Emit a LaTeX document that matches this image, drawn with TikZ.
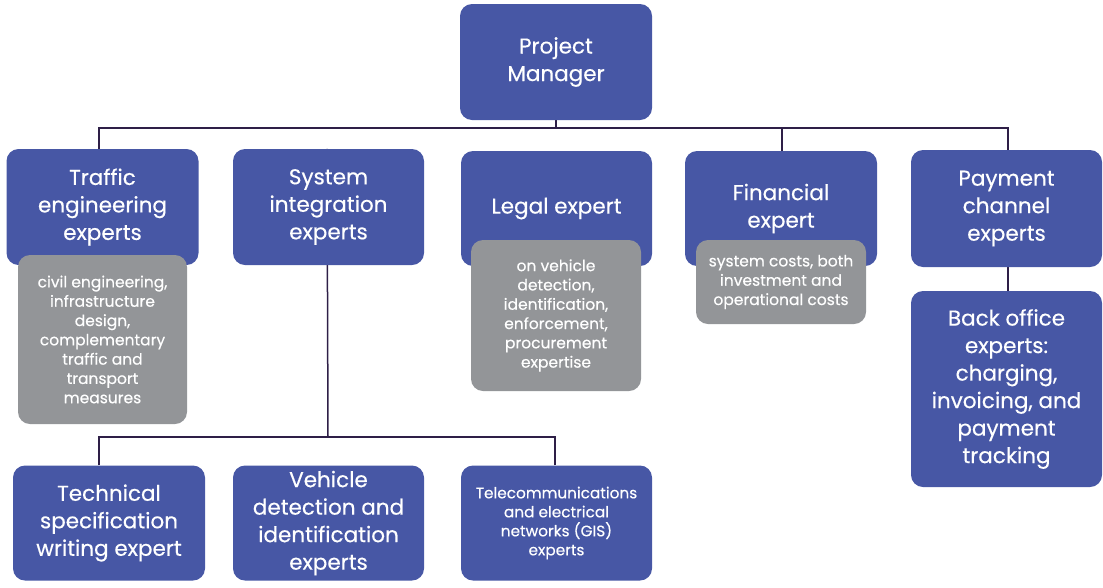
\documentclass[tikz,border=0pt]{standalone}
\usepackage{fontspec}
\setmainfont{Poppins}[FakeBold=0.35]
\usetikzlibrary{backgrounds}
\definecolor{boxblue}{HTML}{4757A5}
\definecolor{boxgrey}{HTML}{939598}
\definecolor{linec}{HTML}{2E1F47}
\begin{document}
\begin{tikzpicture}[x=1pt,y=-1pt,
  sz/.style 2 args={minimum width=#1, minimum height=#2},
  bluebox/.style={fill=boxblue, rounded corners=12pt, text=white, inner sep=0pt, align=center,
    font=\fontsize{21.5}{27.5}\selectfont},
  greybox/.style={fill=boxgrey, rounded corners=12pt, text=white, inner sep=0pt, align=center,
    font=\fontsize{15.5}{19.3}\selectfont},
  conn/.style={draw=linec, line width=1.5pt}]
\useasboundingbox (0,0) rectangle (1103,587);
% boxes
\node[bluebox, sz={192pt}{116pt}] (pm) at (556,62) {Project\\Manager};
\node[bluebox, sz={192pt}{116pt}] (traffic) at (102.5,207) {Traffic\\engineering\\experts};
\node[bluebox, sz={191pt}{116pt}] (system) at (328.5,207) {System\\integration\\experts};
\node[bluebox, sz={191pt}{115pt}] (legal) at (556.5,208.5) {\raisebox{5pt}{Legal expert}};
\node[bluebox, sz={192pt}{115pt}] (fin) at (781,208.5) {Financial\\expert};
\node[bluebox, sz={191pt}{117pt}] (pay) at (1006.5,208.5) {Payment\\channel\\experts};
\node[bluebox, sz={191pt}{196pt}] (back) at (1006.5,389) {Back office\\experts:\\charging,\\invoicing, and\\payment\\tracking};
\node[greybox, sz={169pt}{169pt}] (g1) at (102.5,339.5) {civil engineering,\\infrastructure\\design,\\complementary\\traffic and\\transport\\measures};
\node[greybox, sz={170pt}{151pt}] (g2) at (556,315.5) {on vehicle\\detection,\\identification,\\enforcement,\\procurement\\expertise};
\node[greybox, sz={170pt}{84pt}] (g3) at (781,282) {system costs, both\\investment and\\operational costs};
\node[bluebox, sz={192pt}{115pt}] (tech) at (109,523) {Technical\\specification\\writing expert};
\node[bluebox, sz={191pt}{115pt}] (veh) at (328.5,523) {Vehicle\\detection and\\identification\\experts};
\node[bluebox, sz={191pt}{115pt}, font=\fontsize{15.3}{19}\selectfont] (tel) at (556.5,523) {Telecommunications\\and electrical\\networks (GIS)\\experts};
% bus points
\coordinate (bus) at (556,128);
\coordinate (lowbus) at (328,437);
% connectors behind the boxes
\begin{pgfonlayer}{background}
\draw[conn] (pm) -- (bus);
\draw[conn] ([xshift=-3.5pt]traffic.north) |- (bus);
\draw[conn] ([xshift=1.5pt]pay.north) |- (bus);
\draw[conn] ([xshift=1pt]fin.north) |- (bus);
\draw[conn] ([xshift=-1.5pt]system.north) -- (lowbus);
\draw[conn] ([xshift=-10pt]tech.north) |- (lowbus);
\draw[conn] ([xshift=-1.5pt]tel.north) |- (lowbus);
\draw[conn] ([xshift=1.5pt]pay.south) -- ([xshift=1.5pt]back.north);
\end{pgfonlayer}
\end{tikzpicture}
\end{document}
